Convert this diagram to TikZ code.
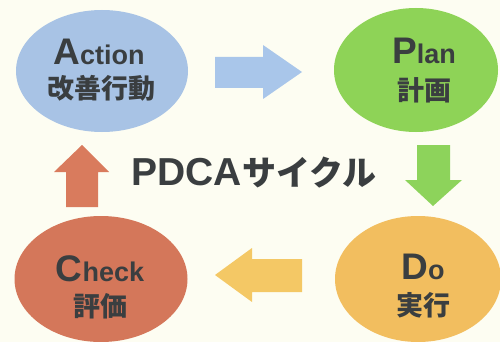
\documentclass[tikz,border=0pt]{standalone}
\usepackage{fontspec}
\setmainfont{Liberation Sans}
\newfontfamily\cjk{Noto Sans CJK JP}
\usetikzlibrary{shapes.geometric}
\definecolor{bg}{HTML}{FDFDF2}
\definecolor{txt}{HTML}{3A3E40}
\definecolor{cA}{HTML}{A8C3E5}
\definecolor{cP}{HTML}{8ED357}
\definecolor{cD}{HTML}{F2BE5F}
\definecolor{cC}{HTML}{D4775A}
\definecolor{aB}{HTML}{A9C6EA}
\definecolor{aG}{HTML}{8DD35B}
\definecolor{aY}{HTML}{F4C865}
\definecolor{aO}{HTML}{D97B5D}
\newcommand{\biglet}[1]{{\fontsize{37}{37}\selectfont\bfseries #1}}
\newcommand{\smllet}[1]{{\fontsize{27}{27}\selectfont\bfseries #1}}
\tikzset{
  phase/.style={ellipse, inner sep=0pt, draw=none},
  latin/.style={anchor=base, inner sep=0pt, text=txt},
  kanji/.style={anchor=center, inner sep=0pt, text=txt, font=\cjk\bfseries\fontsize{27}{27}\selectfont},
  blockarrow/.style={draw=none}
}
\begin{document}
\begin{tikzpicture}[x=1pt,y=-1pt]
\useasboundingbox (0,0) rectangle (500,342);
\fill[bg] (0,0) rectangle (500,342);
% ellipses
\node[phase, fill=cA, minimum width=172pt, minimum height=122pt] (act) at (102,71) {};
\node[phase, fill=cP, minimum width=164pt, minimum height=124pt] (plan) at (416,70) {};
\node[phase, fill=cC, minimum width=173pt, minimum height=126pt] (chk) at (101,279) {};
\node[phase, fill=cD, minimum width=166pt, minimum height=126pt] (do) at (418,279) {};
% labels
\node[latin] (actL) at (99,65) {\biglet{A}\smllet{ction}};
\node[kanji] (actJ) at (101,88) {改善行動};
\node[latin] (planL) at (424,64) {\biglet{P}\smllet{lan}};
\node[kanji] (planJ) at (424,90) {計画};
\node[latin] (chkL) at (100,281) {\biglet{C}\smllet{heck}};
\node[kanji] (chkJ) at (100,306) {評価};
\node[latin] (doL) at (423,279) {\biglet{D}\smllet{o}};
\node[kanji] (doJ) at (423,305) {実行};
% title
\node[inner sep=0pt, text=txt, anchor=base] (title) at (254,185)
  {{\fontsize{39}{39}\selectfont\bfseries PDCA}{\cjk\bfseries\fontsize{34}{34}\selectfont サイクル}};
% block arrows
\fill[aB, blockarrow] (215,57) -- (263,57) -- (263,45) -- (302,72) -- (263,99) -- (263,88) -- (215,88) -- cycle;
\fill[aG, blockarrow] (417,145) -- (450,145) -- (450,180) -- (462,180) -- (433,206) -- (405,180) -- (417,180) -- cycle;
\fill[aY, blockarrow] (302,259) -- (252,259) -- (252,248) -- (215,275) -- (252,302) -- (252,292) -- (302,292) -- cycle;
\fill[aO, blockarrow] (66,207) -- (66,172) -- (54,172) -- (82,145) -- (109,172) -- (98,172) -- (98,207) -- cycle;
\end{tikzpicture}
\end{document}
